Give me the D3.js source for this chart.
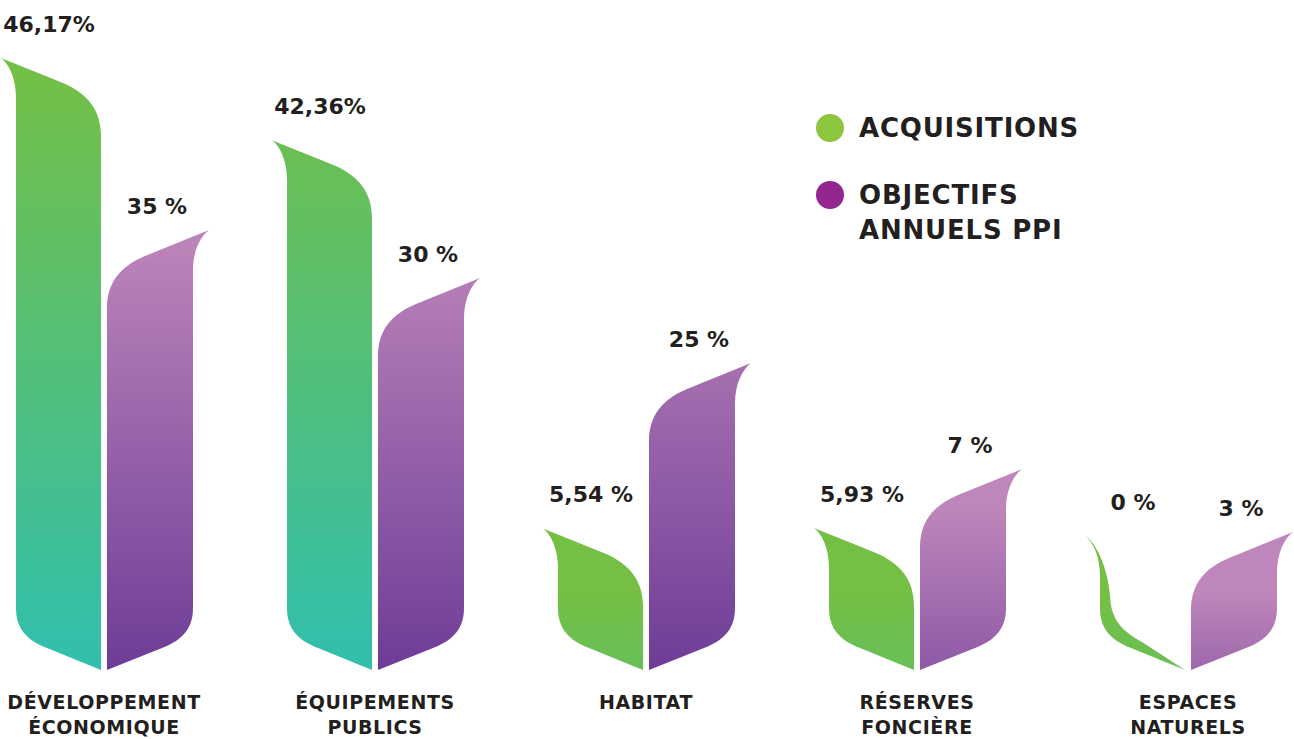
<!DOCTYPE html>
<html>
<head>
<meta charset="utf-8">
<script src="https://cdn.jsdelivr.net/npm/d3@7"></script>
<style>
  body { margin: 0; background: #fff; }
  svg { display: block; font-family: "DejaVu Sans", sans-serif; }
</style>
</head>
<body>
<svg id="chart" width="1294" height="739"></svg>
<script>
var categories = [["DÉVELOPPEMENT", "ÉCONOMIQUE"], ["ÉQUIPEMENTS", "PUBLICS"], ["HABITAT"], ["RÉSERVES", "FONCIÈRE"], ["ESPACES", "NATURELS"]]
var acquisitions = [46.17, 42.36, 5.54, 5.93, 0]
var objectifs = [35, 30, 25, 7, 3]
var acqLabels = ["46,17%", "42,36%", "5,54 %", "5,93 %", "0 %"]
var objLabels = ["35 %", "30 %", "25 %", "7 %", "3 %"]
var legendItems = [["ACQUISITIONS"], ["OBJECTIFS", "ANNUELS PPI"]]

var width = 1294, height = 739
var base = 670
var svg = d3.select("#chart")
var defs = svg.append("defs")

var xScale = d3.scalePoint()
    .domain(categories.map(function(d) { return d.join(" ") }))
    .range([104, 1188])

// leaf size is not proportional in the original, so a multi-stop scale
var yScale = d3.scaleLinear()
    .domain([0, 6, 7, 25, 30, 35, 42, 47])
    .range([536, 528, 469, 363, 278, 230, 148, 40])

var green = {top: "#75bf44", bottom: "#30bfae", shortMix: 150}
var purple = {top: "#bf86bb", bottom: "#6e3c97", shortMix: 330}

// tall leaves share one gradient over the whole series height,
// short leaves get their own, mostly flat one
function addGradient(id, cols, yT, yTop) {
  var h = base - yT
  var grad = defs.append("linearGradient").attr("id", id)
  if (h > 250) {
    grad.attr("gradientUnits", "userSpaceOnUse")
      .attr("x1", 0).attr("x2", 0).attr("y1", yTop).attr("y2", base)
    grad.append("stop").attr("offset", 0).attr("stop-color", cols.top)
    grad.append("stop").attr("offset", 1).attr("stop-color", cols.bottom)
  } else {
    var t = Math.min(1, h / cols.shortMix) * (cols.shortMix < 200 ? 0.2 : 1)
    var hold = Math.max(0, Math.min(0.6, (250 - h) / 250))
    grad.attr("x1", 0).attr("y1", 0).attr("x2", 0).attr("y2", 1)
    grad.append("stop").attr("offset", 0).attr("stop-color", cols.top)
    grad.append("stop").attr("offset", hold).attr("stop-color", cols.top)
    grad.append("stop").attr("offset", 1).attr("stop-color", d3.interpolateRgb(cols.top, cols.bottom)(t))
  }
}

function greenLeaf(gap, yT, yB) {
  var R = gap - 3, L = R - 85, tx = L - 15
  var p = d3.path()
  p.moveTo(tx, yT)
  p.lineTo(L + 47, yT + 25)
  p.bezierCurveTo(L + 72, yT + 36, R, yT + 52, R, yT + 78)
  p.lineTo(R, yB)
  p.lineTo(L + 31, yB - 22)
  p.bezierCurveTo(L + 10, yB - 30, L, yB - 42, L, yB - 62)
  p.lineTo(L, yT + 40)
  p.bezierCurveTo(L, yT + 20, tx + 8, yT + 6, tx, yT)
  p.closePath()
  return p.toString()
}

function zeroLeaf(gap, yT, yB) {
  var R = gap - 3, L = R - 85, tx = L - 15
  var p = d3.path()
  p.moveTo(tx, yT)
  p.bezierCurveTo(tx + 8, yT + 6, L, yT + 20, L, yT + 40)
  p.lineTo(L, yB - 62)
  p.bezierCurveTo(L, yB - 42, L + 10, yB - 30, L + 31, yB - 22)
  p.lineTo(R, yB)
  p.lineTo(L + 42, yB - 28)
  p.bezierCurveTo(L + 20, yB - 40, L + 11, yB - 52, L + 10, yB - 74)
  p.bezierCurveTo(L + 8, yT + 32, tx + 11, yT + 6, tx, yT)
  p.closePath()
  return p.toString()
}

function purpleLeaf(gap, yT, yB) {
  var L = gap + 3, R = L + 86, tx = R + 16
  var p = d3.path()
  p.moveTo(tx, yT)
  p.bezierCurveTo(tx - 8, yT + 6, R, yT + 20, R, yT + 40)
  p.lineTo(R, yB - 62)
  p.bezierCurveTo(R, yB - 42, R - 10, yB - 30, R - 31, yB - 22)
  p.lineTo(L, yB)
  p.lineTo(L, yT + 78)
  p.bezierCurveTo(L, yT + 52, L + 14, yT + 36, R - 48, yT + 26)
  p.closePath()
  return p.toString()
}

var g = svg.append("g")
var topA = yScale(d3.max(acquisitions)), topO = yScale(d3.max(objectifs))

categories.forEach(function(cat, i) {
  var gap = xScale(cat.join(" "))
  var yA = yScale(acquisitions[i]), yO = yScale(objectifs[i])

  addGradient("gA" + i, green, yA, topA)
  addGradient("gO" + i, purple, yO, topO)

  g.append("path")
    .attr("d", acquisitions[i] === 0 ? zeroLeaf(gap, yA, base) : greenLeaf(gap, yA, base))
    .attr("fill", "url(#gA" + i + ")")

  g.append("path")
    .attr("d", purpleLeaf(gap, yO, base))
    .attr("fill", "url(#gO" + i + ")")

  g.append("text")
    .attr("x", gap - 3 - 52)
    .attr("y", yA - 34)
    .attr("dy", "0.35em")
    .attr("text-anchor", "middle")
    .attr("font-size", 22)
    .attr("font-weight", 700)
    .attr("fill", "#231f20")
    .text(acqLabels[i])

  g.append("text")
    .attr("x", gap + 3 + 50)
    .attr("y", yO - 24)
    .attr("dy", "0.35em")
    .attr("text-anchor", "middle")
    .attr("font-size", 22)
    .attr("font-weight", 700)
    .attr("fill", "#231f20")
    .text(objLabels[i])

  var lab = g.append("text")
    .attr("text-anchor", "middle")
    .attr("font-size", 19)
    .attr("font-weight", 700)
    .attr("letter-spacing", 0.6)
    .attr("fill", "#231f20")
  cat.forEach(function(line, j) {
    lab.append("tspan")
      .attr("x", gap)
      .attr("y", 702 + j * 25)
      .attr("dy", "0.35em")
      .text(line)
  })
})

// legend
var legendColours = ["#8cc63f", "#93278f"]
var legend = svg.append("g").attr("transform", "translate(830,128)")
legendItems.forEach(function(lines, i) {
  var row = legend.append("g").attr("transform", "translate(0," + (i * 67) + ")")
  row.append("circle").attr("r", 14).attr("fill", legendColours[i])
  var t = row.append("text")
    .attr("font-size", 26)
    .attr("font-weight", 700)
    .attr("letter-spacing", 0.8)
    .attr("fill", "#231f20")
  lines.forEach(function(line, j) {
    t.append("tspan")
      .attr("x", 29)
      .attr("y", j * 35)
      .attr("dy", "0.36em")
      .text(line)
  })
})
</script>
</body>
</html>
